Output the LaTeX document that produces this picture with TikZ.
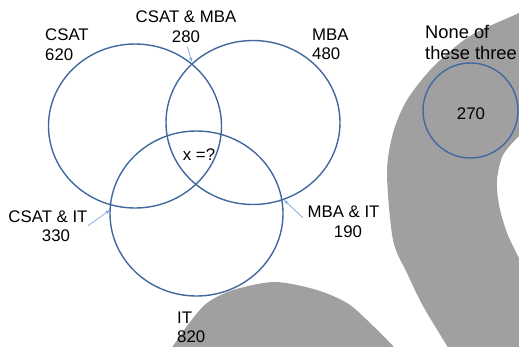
\documentclass[tikz,border=0pt]{standalone}
\usepackage{fontspec}
\setmainfont{Liberation Sans}
\usetikzlibrary{arrows.meta}
\definecolor{vennblue}{RGB}{65,105,160}
\definecolor{pointblue}{RGB}{125,165,215}
\definecolor{blobgray}{RGB}{160,160,160}

\begin{document}
\begin{tikzpicture}[x=1pt, y=-1pt,
        venn/.style={draw=vennblue, line width=1.4pt},
        venntext/.style={inner sep=0pt, align=center, font=\fontsize{16.8}{19.5}\selectfont},
        pointer/.style={draw=pointblue, line width=0.7pt, -{Stealth[length=5pt,width=3.5pt]}}]
        \useasboundingbox (0,0) rectangle (519,346);
        \clip (0,0) rectangle (519,346);

        % Grey shapes in the background
        \fill[blobgray] plot[smooth] coordinates {(535,5) (519,13) (470,36) (433,67) (407,100) (393,133) (387,173) (393,240) (407,273) (423,306) (447,346) (452,356)}
            -- (530,356) -- (530,258) -- plot[smooth] coordinates {(519,258) (507,233) (499,205) (497,180) (503,155) (519,136)} -- (530,136) -- cycle;
        \fill[blobgray] plot[smooth] coordinates {(165,356) (173,346) (190,322) (207,303) (233,290) (275,282) (317,290) (347,303) (367,320) (393,346) (400,356)} -- cycle;

        % Circles CSAT, MBA, IT
        \draw[venn] (135,126) ellipse [x radius=86.5pt, y radius=82pt];
        \draw[venn] (253,122.5) ellipse [x radius=87pt, y radius=82pt];
        \draw[venn] (196.5,213.5) ellipse [x radius=86.5pt, y radius=82.5pt];

        % Circle for none of the three
        \draw[venn] (470.5,110.5) circle [radius=47.5pt];

        % Labels
        \node[venntext, anchor=west, align=left] (csat) at (45,44.7) {CSAT\\620};
        \node[venntext] (csatmba) at (186,26.5) {CSAT \& MBA\\280};
        \node[venntext, anchor=west, align=left] (mba) at (312,44.5) {MBA\\480};
        \node[venntext, anchor=west, align=left, font=\fontsize{18.3}{21}\selectfont] (none) at (425,42.3) {None of\\these three};
        \node[venntext] (nonecount) at (471,114) {270};
        \node[venntext] (centre) at (199,155) {x =?};
        \node[venntext] (csatit) at (48,226) {CSAT \& IT\\\hspace*{16pt}330};
        \node[venntext] (mbait) at (343.5,222) {MBA \& IT\\\hspace*{9pt}190};
        \node[venntext, anchor=west, align=left] (it) at (177,327.5) {IT\\820};

        % Pointers to the overlaps
        \coordinate (csatmbapt) at (192,62);
        \coordinate (csatitpt) at (110,210);
        \coordinate (mbaitpt) at (284,200);
        \draw[pointer, shorten <=5pt] (csatmba.south) -- (csatmbapt);
        \draw[pointer] (csatit.east) -- (csatitpt);
        \draw[pointer, shorten <=6pt] (mbait.west) -- (mbaitpt);
\end{tikzpicture}
\end{document}
